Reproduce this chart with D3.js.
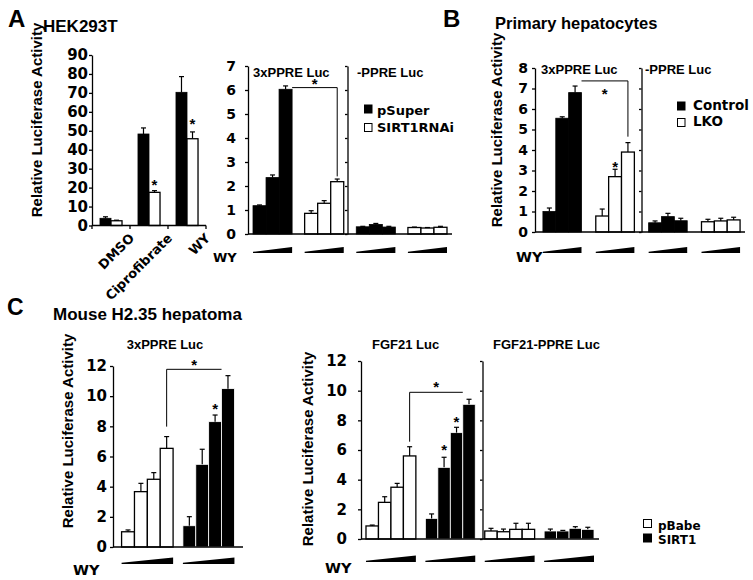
<!DOCTYPE html>
<html><head><meta charset="utf-8">
<script src="https://cdn.jsdelivr.net/npm/d3@7"></script>
<style>body{margin:0;background:#fff} svg{display:block}</style>
</head><body>
<svg id="c" width="753" height="580"></svg>
<script>
// ================= DATA =================
// Panel A – HEK293T (left chart)
const catsA1 = ["DMSO", "Ciprofibrate", "WY"];
const seriesA1 = ["pSuper", "SIRT1RNAi"];
const pSuperA1 = [3.8, 48.3, 70.3];
const pSuperErrA1 = [0.8, 3.2, 8.3];
const sirtRNAiA1 = [2.5, 17.5, 45.8];
const sirtRNAiErrA1 = [0.3, 0.9, 3.6];
const ticksA1 = [0, 10, 20, 30, 40, 50, 60, 70, 80, 90];
const starsA1 = [{g: 1, b: 1, v: 23.1}, {g: 2, b: 1, v: 55.3}];

// Panel A – right chart (WY dose series)
const subtitlesA2 = ["3xPPRE Luc", "-PPRE Luc"];
const groupsA2 = ["3xPPRE/pSuper", "3xPPRE/SIRT1RNAi", "-PPRE/pSuper", "-PPRE/SIRT1RNAi"];
const seriesA2 = ["pSuper", "SIRT1RNAi", "pSuper", "SIRT1RNAi"];
const valuesA2 = [[1.18, 2.35, 6.03], [0.86, 1.28, 2.18], [0.30, 0.40, 0.29], [0.27, 0.25, 0.28]];
const errorsA2 = [[0.03, 0.11, 0.14], [0.11, 0.11, 0.11], [0.02, 0.04, 0.03], [0.02, 0.02, 0.04]];
const ticksA2 = [0, 1, 2, 3, 4, 5, 6, 7];
const bracketA2 = {pts: [[0, 2, 1, 6.1], [1, 2, 0.5, 6.1], [1, 2, 0.5, 2.4]], star: 6.38};
const legendA = ["pSuper", "SIRT1RNAi"];

// Panel B – Primary hepatocytes
const subtitlesB = ["3xPPRE Luc", "-PPRE Luc"];
const groupsB = ["3xPPRE/Control", "3xPPRE/LKO", "-PPRE/Control", "-PPRE/LKO"];
const seriesB = ["Control", "LKO", "Control", "LKO"];
const valuesB = [[1.0, 5.55, 6.8], [0.78, 2.7, 3.9], [0.45, 0.75, 0.55], [0.5, 0.54, 0.59]];
const errorsB = [[0.17, 0.07, 0.32], [0.34, 0.36, 0.46], [0.09, 0.16, 0.12], [0.12, 0.13, 0.13]];
const ticksB = [0, 1, 2, 3, 4, 5, 6, 7, 8];
const starsB = [{g: 1, b: 1, v: 3.37}];
const bracketB = {pts: [[0, 2, 1, 7.37], [1, 2, 0.5, 7.37], [1, 2, 0.5, 4.65]], star: 6.9};
const legendB = ["Control", "LKO"];

// Panel C – Mouse H2.35 hepatoma, left chart
const subtitleC1 = "3xPPRE Luc";
const groupsC1 = ["pBabe", "SIRT1"];
const seriesC1 = ["pBabe", "SIRT1"];
const valuesC1 = [[1.01, 3.67, 4.49, 6.54], [1.41, 5.48, 8.31, 10.5]];
const errorsC1 = [[0.12, 0.55, 0.44, 0.78], [0.6, 1.0, 0.44, 0.86]];
const ticksC = [0, 2, 4, 6, 8, 10, 12];
const starsC1 = [{g: 1, b: 2, v: 9.42}];
const bracketC1 = {pts: [[0, 3, 0.5, 7.98], [0, 3, 0.5, 11.78], [1, 3, 0, 11.78]], star: 12.29};

// Panel C – right chart
const subtitlesC2 = ["FGF21 Luc", "FGF21-PPRE Luc"];
const groupsC2 = ["FGF21/pBabe", "FGF21/SIRT1", "FGF21-PPRE/pBabe", "FGF21-PPRE/SIRT1"];
const seriesC2 = ["pBabe", "SIRT1", "pBabe", "SIRT1"];
const valuesC2 = [[0.88, 2.47, 3.49, 5.6], [1.39, 4.83, 7.17, 9.08], [0.54, 0.49, 0.65, 0.65], [0.54, 0.54, 0.72, 0.65]];
const errorsC2 = [[0.06, 0.38, 0.26, 0.62], [0.3, 0.68, 0.36, 0.34], [0.18, 0.18, 0.41, 0.41], [0.13, 0.04, 0.11, 0.14]];
const starsC2 = [{g: 1, b: 1, v: 6.22}, {g: 1, b: 2, v: 8.14}];
const bracketC2 = {pts: [[0, 3, 0.5, 6.56], [0, 3, 0.5, 9.89], [1, 3, 0, 9.89]], star: 10.5};
const legendC = ["pBabe", "SIRT1"];

const yTitle = "Relative Luciferase Activity";

// ================= DRAWING =================
const svg = d3.select("#c");
const ARIAL = "'Liberation Sans', Arial, sans-serif";
const VERD = "'DejaVu Sans', Verdana, sans-serif";
const fillOf = d3.scaleOrdinal()
  .domain(["pSuper", "SIRT1RNAi", "Control", "LKO", "pBabe", "SIRT1"])
  .range(["#000", "#fff", "#000", "#fff", "#fff", "#000"]);

function txt(x, y, s, size, fam, opts = {}) {
  const t = svg.append("text").attr("x", x).attr("y", y).text(s)
    .attr("font-family", fam).attr("font-size", size).attr("font-weight", "bold")
    .attr("fill", "#000").attr("text-anchor", opts.anchor || "start");
  if (opts.rot) t.attr("transform", `rotate(${opts.rot},${x},${y})`);
  return t;
}

function panel(cfg) {
  const x = d3.scaleBand().domain(cfg.groups).range(cfg.xRange)
    .paddingInner(cfg.pi).paddingOuter(cfg.po);
  const y = d3.scaleLinear().domain([0, d3.max(cfg.ticks)]).range(cfg.yRange);
  const g = svg.append("g");
  const inners = cfg.groups.map((gid) =>
    d3.scaleBand().domain(d3.range(cfg.values[0].length)).range([x(gid), x(gid) + x.bandwidth()]));
  const bx = (gi, bi, f) => inners[gi](bi) + f * inners[gi].bandwidth();

  // bars
  cfg.groups.forEach((gid, gi) => {
    const inner = inners[gi];
    cfg.values[gi].forEach((v, bi) => {
      const s = cfg.seriesOf(gi, bi);
      const f = fillOf(s);
      g.append("rect")
        .attr("x", inner(bi)).attr("y", y(v))
        .attr("width", inner.bandwidth()).attr("height", y(0) - y(v))
        .attr("fill", f)
        .attr("stroke", f === "#000" ? cfg.blackStroke : "#000")
        .attr("stroke-width", f === "#000" ? 0.8 : 1.3);
      const e = cfg.errors[gi][bi];
      const cx = inner(bi) + inner.bandwidth() / 2;
      g.append("line").attr("x1", cx).attr("x2", cx).attr("y1", y(v)).attr("y2", y(v + e))
        .attr("stroke", "#000").attr("stroke-width", 1.2);
      g.append("line").attr("x1", cx - 2.5).attr("x2", cx + 2.5).attr("y1", y(v + e)).attr("y2", y(v + e))
        .attr("stroke", "#000").attr("stroke-width", 1.2);
    });
  });

  // y axis
  const ax = g.append("g").attr("transform", `translate(${cfg.xRange[0]},0)`)
    .call(d3.axisLeft(y).tickValues(cfg.ticks).tickFormat(d3.format("d"))
      .tickSize(3).tickSizeOuter(0).tickPadding(cfg.tickPad));
  ax.selectAll("text").attr("font-family", VERD).attr("font-size", cfg.tickFont)
    .attr("font-weight", "bold").attr("fill", "#000");
  ax.selectAll("path,line").attr("stroke", "#000").attr("stroke-width", 1.3);

  // divider axis between the two sub-panels
  if (cfg.divider) {
    const dx = (x(cfg.groups[1]) + x.bandwidth() + x(cfg.groups[2])) / 2 + (cfg.divShift || 0);
    const dv = g.append("g").attr("transform", `translate(${dx},0)`)
      .call(d3.axisLeft(y).tickValues(cfg.ticks).tickSize(2.5).tickSizeOuter(0).tickFormat(""));
    dv.selectAll("path,line").attr("stroke", "#000").attr("stroke-width", 1.3);
  }

  // x axis line
  g.append("line").attr("x1", cfg.xRange[0]).attr("x2", cfg.xEnd || cfg.xRange[1])
    .attr("y1", y(0)).attr("y2", y(0)).attr("stroke", "#000").attr("stroke-width", 1.3);

  // stars
  (cfg.stars || []).forEach(s => {
    txt(bx(s.g, s.b, 0.5), y(s.v) + 8.6, "*", 15, ARIAL, {anchor: "middle"});
  });

  // bracket
  if (cfg.bracket) {
    const pts = cfg.bracket.pts.map(p => [bx(p[0], p[1], p[2]), y(p[3])]);
    g.append("path").attr("d", d3.line()(pts)).attr("fill", "none")
      .attr("stroke", "#000").attr("stroke-width", 1);
    const xs = pts.map(p => p[0]);
    txt((d3.min(xs) + d3.max(xs)) / 2, y(cfg.bracket.star) + 8.6, "*", 15, ARIAL, {anchor: "middle"});
  }

  // WY dose wedges
  if (cfg.wedgeY) {
    cfg.groups.forEach((gid) => {
      const x0 = x(gid), x1 = x(gid) + x.bandwidth(), b = cfg.wedgeY;
      g.append("path").attr("d", `M${x0},${b}L${x0},${b - 1.2}L${x1},${b - cfg.wedgeH}L${x1},${b}Z`)
        .attr("fill", "#000");
    });
  }
  return {x, y, bx};
}

// ---------- Panel A left ----------
const pA1 = panel({
  groups: catsA1,
  values: catsA1.map((c, i) => [pSuperA1[i], sirtRNAiA1[i]]),
  errors: catsA1.map((c, i) => [pSuperErrA1[i], sirtRNAiErrA1[i]]),
  seriesOf: (gi, bi) => seriesA1[bi],
  xRange: [92, 206], pi: 0.42, po: 0.21,
  yRange: [225.5, 55], ticks: ticksA1, tickPad: 1, tickFont: 15,
  blackStroke: "#000", stars: starsA1
});
// x ticks at category boundaries
d3.range(catsA1.length + 1).forEach(i => {
  const xx = 92 + i * pA1.x.step();
  svg.append("line").attr("x1", xx).attr("x2", xx).attr("y1", 225.5).attr("y2", 229)
    .attr("stroke", "#000").attr("stroke-width", 1.3);
});
catsA1.forEach(c => {
  const cx = pA1.x(c) + pA1.x.bandwidth() / 2;
  txt(cx + 24, 239, c, 13, VERD, {anchor: "end", rot: -45});
});
txt(8, 27, "A", 24, ARIAL);
txt(43, 32, "HEK293T", 17, ARIAL);
txt(42, 120, yTitle, 15, ARIAL, {anchor: "middle", rot: -90});

// ---------- Panel A right ----------
panel({
  groups: groupsA2, values: valuesA2, errors: errorsA2,
  seriesOf: (gi) => seriesA2[gi],
  xRange: [248, 452], pi: 0.243, po: 0.097,
  yRange: [234, 66], ticks: ticksA2, tickPad: 9, tickFont: 14,
  blackStroke: "#000", divider: true, divShift: -2.5,
  bracket: bracketA2, wedgeY: 253, wedgeH: 6
});
txt(253, 77, subtitlesA2[0], 13, ARIAL);
txt(357, 77, subtitlesA2[1], 13, ARIAL);
txt(213, 261.5, "WY", 13, VERD);
legendA.forEach((s, i) => {
  svg.append("rect").attr("x", 364.5).attr("y", 105 + i * 18.5).attr("width", 7.5).attr("height", 8)
    .attr("fill", fillOf(s)).attr("stroke", "#000").attr("stroke-width", 1);
  txt(377, 114.5 + i * 17, s, 13, VERD);
});

// ---------- Panel B ----------
panel({
  groups: groupsB, values: valuesB, errors: errorsB,
  seriesOf: (gi) => seriesB[gi],
  xRange: [535, 748], xEnd: 745, pi: 0.27, po: 0.15,
  yRange: [232, 68], ticks: ticksB, tickPad: 4, tickFont: 14,
  blackStroke: "#000", divider: true,
  stars: starsB, bracket: bracketB, wedgeY: 253, wedgeH: 6
});
txt(443, 27, "B", 24, ARIAL);
txt(495, 29, "Primary hepatocytes", 16.5, ARIAL);
txt(502, 130, yTitle, 15, ARIAL, {anchor: "middle", rot: -90});
txt(541, 74, subtitlesB[0], 13, ARIAL);
txt(645, 74, subtitlesB[1], 13, ARIAL);
txt(516, 262, "WY", 14.5, VERD);
legendB.forEach((s, i) => {
  svg.append("rect").attr("x", 677.5).attr("y", 102 + i * 16.5).attr("width", 7.5).attr("height", 8)
    .attr("fill", fillOf(s)).attr("stroke", "#000").attr("stroke-width", 1);
  txt(693, 110 + i * 16, s, 13.5, VERD);
});

// ---------- Panel C left ----------
panel({
  groups: groupsC1, values: valuesC1, errors: errorsC1,
  seriesOf: (gi) => seriesC1[gi],
  xRange: [113, 243], pi: 0.16, po: 0.14,
  yRange: [547, 366], ticks: ticksC, tickPad: 3, tickFont: 15,
  blackStroke: "#fff", stars: starsC1, bracket: bracketC1, wedgeY: 564, wedgeH: 6.5
});
txt(7, 315, "C", 23, ARIAL);
txt(53, 320, "Mouse H2.35 hepatoma", 17, ARIAL);
txt(165, 349, subtitleC1, 13, ARIAL, {anchor: "middle"});
txt(73, 431, yTitle, 15, ARIAL, {anchor: "middle", rot: -90});
txt(73, 575, "WY", 14.5, VERD);

// ---------- Panel C right ----------
panel({
  groups: groupsC2, values: valuesC2, errors: errorsC2,
  seriesOf: (gi) => seriesC2[gi],
  xRange: [361, 599], pi: 0.16, po: 0.084,
  yRange: [539, 361], ticks: ticksC, tickPad: 11, tickFont: 15,
  blackStroke: "#fff", divider: true, divShift: 2.5,
  stars: starsC2, bracket: bracketC2, wedgeY: 562, wedgeH: 6.5
});
txt(372, 349, subtitlesC2[0], 13, ARIAL);
txt(493, 349, subtitlesC2[1], 13, ARIAL);
txt(313, 449, yTitle, 15, ARIAL, {anchor: "middle", rot: -90});
txt(325, 573, "WY", 14.5, VERD);
legendC.forEach((s, i) => {
  svg.append("rect").attr("x", 643.5).attr("y", 519.5 + i * 14.5).attr("width", 8).attr("height", 8)
    .attr("fill", fillOf(s)).attr("stroke", "#000").attr("stroke-width", 1);
  txt(658, 529.5 + i * 14.5, s, 12, VERD);
});
</script>
</body></html>
